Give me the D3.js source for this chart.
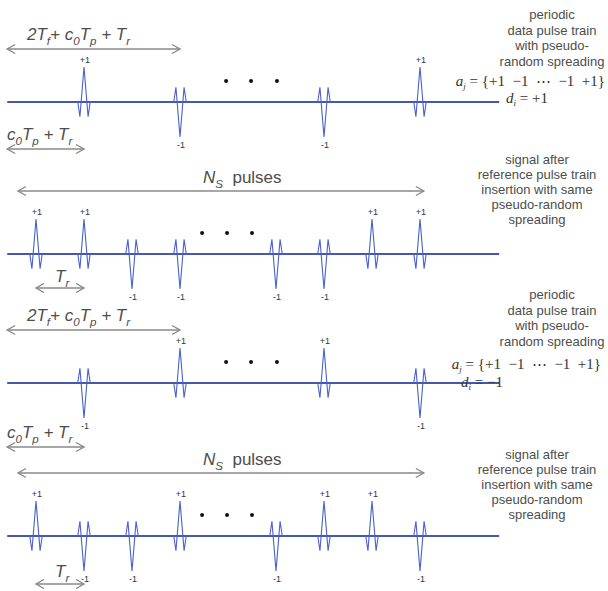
<!DOCTYPE html>
<html>
<head>
<meta charset="utf-8">
<script src="https://cdn.jsdelivr.net/npm/d3@7"></script>
<style>
  body { margin: 0; background: #fff; }
  svg { display: block; }
</style>
</head>
<body>
<div id="chart"></div>
<script>
// time slots of the pulses, in units of Tr
var dataSlots = [1, 3, 6, 8];
var refSlots = [0, 2, 5, 7];
// pseudo-random spreading code a_j and the two data bits d_i
var spreadingCode = [+1, -1, -1, +1];
var dataBits = [+1, -1];
// the "· · ·" marks (in Tr units)
var dotsData = [3.96, 4.48, 5.02];
var dotsRef = [3.46, 3.98, 4.50];
// monocycle shape: time offset (Tr units) and amplitude
var shapeT = [-0.13, -0.085, 0, 0.085, 0.13];
var shapeA = [0, -0.42, 1, -0.42, 0];
// right hand notes
var descData = ["periodic", "data pulse train", "with pseudo-", "random spreading"];
var descRef = ["signal after", "reference pulse train", "insertion with same", "pseudo-random", "spreading"];

var width = 608, height = 591;
var blue = "#4657b0", grey = "#8a8a8a", textCol = "#4d4d4d";
var nb = "\u00A0";

var svg = d3.select("#chart").append("svg")
  .attr("width", width)
  .attr("height", height)
  .style("font-family", "'Liberation Sans', Arial, sans-serif");

var x = d3.scaleLinear().domain([0, 8]).range([36, 420]);
var y = d3.scaleLinear().domain([-1, 1]).range([35, -35]);

// build the four panels
var panels = [];
dataBits.forEach(function(d, k) {
  var dataPulses = dataSlots.map(function(t, j) { return {t: t, v: spreadingCode[j] * d}; });
  var refPulses = refSlots.map(function(t, j) { return {t: t, v: spreadingCode[j]}; });
  panels.push({y0: k === 0 ? 102 : 383, pulses: dataPulses, dots: dotsData, kind: "data", bit: d});
  panels.push({y0: k === 0 ? 254 : 536, pulses: refPulses.concat(dataPulses), dots: dotsRef, kind: "ref", bit: d});
});

var pulseLine = d3.line()
  .x(function(p) { return p[0]; })
  .y(function(p) { return p[1]; });

function arrowHead(g, xa, ya, dir) {
  g.append("path")
    .attr("d", "M" + (xa - dir * 8) + "," + (ya - 4.5) + "L" + xa + "," + ya + "L" + (xa - dir * 8) + "," + (ya + 4.5))
    .attr("fill", "none")
    .attr("stroke", grey)
    .attr("stroke-width", 1.4);
}

function arrow(x1, x2, ya) {
  var g = svg.append("g");
  g.append("line")
    .attr("x1", x1).attr("x2", x2)
    .attr("y1", ya).attr("y2", ya)
    .attr("stroke", grey)
    .attr("stroke-width", 1.4);
  arrowHead(g, x1, ya, -1);
  arrowHead(g, x2, ya, 1);
}

// text with subscripts: parts = [[text, isSub, upright], ...]
function subText(xt, yt, parts, size) {
  var t = svg.append("text")
    .attr("x", xt).attr("y", yt)
    .attr("font-size", size)
    .attr("font-style", "italic")
    .attr("fill", textCol);
  var shifted = false;
  parts.forEach(function(p) {
    var s = t.append("tspan").text(p[0]);
    if (p[2]) s.attr("font-style", "normal");
    if (p[1]) {
      s.attr("font-size", size * 0.68).attr("dy", shifted ? 0 : size * 0.28);
      shifted = true;
    } else {
      s.attr("dy", shifted ? -size * 0.28 : 0);
      shifted = false;
    }
  });
}

var longLabel = [["2T"], ["f", 1], ["+ c"], ["0", 1], ["T"], ["p", 1], [" + T"], ["r", 1]];
var shortLabel = [["c"], ["0", 1], ["T"], ["p", 1], [" + T"], ["r", 1]];
var nsLabel = [["N"], ["S", 1], [nb + nb + "pulses", 0, 1]];
var trLabel = [["T"], ["r", 1]];

panels.forEach(function(pn, i) {
  var g = svg.append("g").attr("transform", "translate(0," + pn.y0 + ")");

  // baseline
  g.append("line")
    .attr("x1", x(-0.6)).attr("x2", x(9.65))
    .attr("y1", 0).attr("y2", 0)
    .attr("stroke", blue)
    .attr("stroke-width", 2);

  // pulses
  g.selectAll("path.pulse")
    .data(pn.pulses)
    .enter()
    .append("path")
      .attr("class", "pulse")
      .attr("d", function(d) {
        return pulseLine(shapeT.map(function(dt, k) { return [x(d.t + dt), y(shapeA[k] * d.v)]; }));
      })
      .attr("fill", "none")
      .attr("stroke", "#4a5fd0")
      .attr("stroke-width", 1.1);

  // +1 / -1 labels
  g.selectAll("text.pl")
    .data(pn.pulses)
    .enter()
    .append("text")
      .attr("class", "pl")
      .attr("x", function(d) { return x(d.t) + 1; })
      .attr("y", function(d) { return d.v > 0 ? y(1) - 4 : y(-1) + 11; })
      .attr("text-anchor", "middle")
      .attr("font-size", 9)
      .attr("fill", "#333")
      .text(function(d) { return d.v > 0 ? "+1" : "-1"; });

  // dots
  g.selectAll("circle.dot")
    .data(pn.dots)
    .enter()
    .append("circle")
      .attr("class", "dot")
      .attr("cx", function(d) { return x(d); })
      .attr("cy", y(0.6))
      .attr("r", 2)
      .attr("fill", "#111");

  if (pn.kind === "data") {
    var top = pn.y0 - 62;
    subText(27, top + 0, longLabel, 17);
    arrow(x(-0.6), x(3), top + 9);
    subText(7, pn.y0 + 38 + (i === 0 ? 0 : 17), shortLabel, 17);
    arrow(x(-0.6), x(1), pn.y0 + 47 + (i === 0 ? 0 : 17));

    // notes
    var nt = svg.append("text")
      .attr("text-anchor", "middle")
      .attr("font-size", 13)
      .attr("fill", textCol);
    descData.forEach(function(s, k) {
      nt.append("tspan")
        .attr("x", 552)
        .attr("y", (i === 0 ? 19 : 299) + k * 15.5)
        .text(s);
    });

    // a_j and d_i
    var ax = i === 0 ? 605 : 601;
    var ay = i === 0 ? 86 : 369;
    var aj = svg.append("text")
      .attr("x", ax).attr("y", ay)
      .attr("text-anchor", "end")
      .attr("font-family", "'Liberation Serif', 'Times New Roman', serif")
      .attr("font-size", 15)
      .attr("fill", "#333");
    aj.append("tspan").attr("font-style", "italic").text("a");
    aj.append("tspan").attr("font-style", "italic").attr("font-size", 9).attr("dy", 2.5).text("j");
    aj.append("tspan").attr("dy", -2.5)
      .text(" = {+1" + nb + nb + "\u22121" + nb + nb + "\u22EF" + nb + nb + "\u22121" + nb + nb + "+1}");

    var dxp = i === 0 ? 506 : 461;
    var dyp = i === 0 ? 103 : 387;
    var di = svg.append("text")
      .attr("x", dxp).attr("y", dyp)
      .attr("font-family", "'Liberation Serif', 'Times New Roman', serif")
      .attr("font-size", 15)
      .attr("fill", "#333");
    di.append("tspan").attr("font-style", "italic").text("d");
    di.append("tspan").attr("font-style", "italic").attr("font-size", 9).attr("dy", 2.5).text("i");
    di.append("tspan").attr("dy", -2.5).text(" = " + (pn.bit > 0 ? "+1" : "\u22121"));
  } else {
    subText(203, pn.y0 - 71, nsLabel, 17);
    arrow(x(-0.375), x(8.08), pn.y0 - 63);
    subText(55, pn.y0 + 28 + (i === 1 ? 0 : 13), trLabel, 17);
    arrow(x(0), x(1), pn.y0 + 34 + (i === 1 ? 0 : 14));

    var nr = svg.append("text")
      .attr("text-anchor", "middle")
      .attr("font-size", 13)
      .attr("fill", textCol);
    descRef.forEach(function(s, k) {
      nr.append("tspan")
        .attr("x", 537)
        .attr("y", (i === 1 ? 164 : 459) + k * 15)
        .text(s);
    });
  }
});
</script>
</body>
</html>
